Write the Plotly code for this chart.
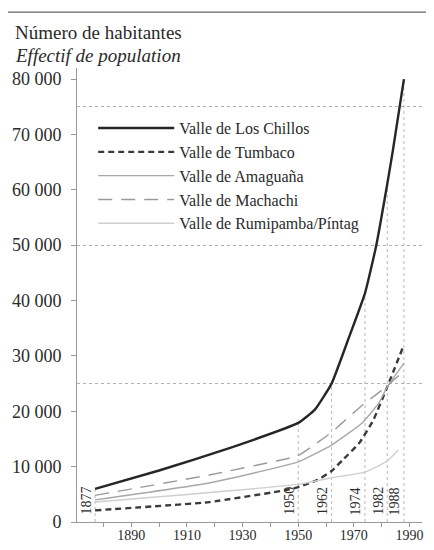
import plotly.graph_objects as go

# ---- data ----
chillos_years = [1877, 1900, 1925, 1950, 1956, 1962, 1968, 1974, 1978, 1982, 1984, 1988]
chillos_vals = [6000, 9300, 13300, 17900, 20300, 25000, 33000, 41300, 49800, 61000, 67000, 80000]

tumbaco_years = [1877, 1918, 1946, 1950, 1957, 1962, 1966, 1972, 1977, 1982, 1988]
tumbaco_vals = [2100, 3600, 5800, 6300, 7600, 9200, 11200, 14300, 18400, 24400, 32000]

amaguana_years = [1877, 1918, 1950, 1962, 1973, 1979, 1982, 1988]
amaguana_vals = [4000, 7050, 10850, 13900, 17900, 21500, 24400, 28700]

machachi_years = [1877, 1918, 1950, 1956, 1962, 1968, 1974, 1978, 1982, 1988]
machachi_vals = [4800, 8500, 12000, 14000, 16200, 18900, 21500, 23000, 24600, 27300]

rumipamba_years = [1877, 1950, 1962, 1974, 1982, 1986]
rumipamba_vals = [3600, 6800, 8000, 9000, 11000, 13000]

series_names = ["Valle de Los Chillos", "Valle de Tumbaco", "Valle de Amaguaña",
                "Valle de Machachi", "Valle de Rumipamba/Píntag"]

census_years = [1877, 1950, 1962, 1974, 1982, 1988]
grid_vals = [25000, 50000, 75000]

ytick_vals = [0, 10000, 20000, 30000, 40000, 50000, 60000, 70000, 80000]
ytick_text = ["0", "10 000", "20 000", "30 000", "40 000", "50 000", "60 000", "70 000", "80 000"]
xtick_vals = [1880, 1890, 1900, 1910, 1920, 1930, 1940, 1950, 1960, 1970, 1980, 1990]
xtick_text = ["", "1890", "", "1910", "", "1930", "", "1950", "", "1970", "", "1990"]

title_lines = ["Número de habitantes", "Effectif de population"]

FONT = "Liberation Serif"
TXT = "#2a2a2a"

fig = go.Figure()

# vertical census guide lines, from 0 up to the Los Chillos curve
vx, vy = [], []
for yr in census_years:
    v = chillos_vals[chillos_years.index(yr)]
    vx += [yr, yr, None]
    vy += [0, v, None]
fig.add_trace(go.Scatter(x=vx, y=vy, mode="lines", showlegend=False, hoverinfo="skip",
                         line=dict(color="#b8b8b8", width=1, dash="dot")))

styles = [
    dict(color="#262626", width=2.4),
    dict(color="#3a3a3a", width=2.4, dash="6px,4px"),
    dict(color="#a8a8a8", width=1.4),
    dict(color="#9a9a9a", width=1.4, dash="14px,9px"),
    dict(color="#cfcfcf", width=1.4),
]
data = [(chillos_years, chillos_vals), (tumbaco_years, tumbaco_vals),
        (amaguana_years, amaguana_vals), (machachi_years, machachi_vals),
        (rumipamba_years, rumipamba_vals)]
for name, (xs, ys), st in zip(series_names, data, styles):
    fig.add_trace(go.Scatter(x=xs, y=ys, mode="lines", name=name,
                             line=dict(shape="spline", smoothing=0.4, **st)))

# rotated census-year labels
for yr in census_years:
    fig.add_annotation(x=yr, y=0, xref="x", yref="y", text=str(yr), textangle=-90,
                       showarrow=False, xanchor="right", yanchor="bottom",
                       xshift=0, yshift=5, font=dict(family=FONT, size=14, color=TXT))

# axis title block (two lines)
fig.add_annotation(xref="paper", yref="paper", x=-0.186, y=1.106, xanchor="left", yanchor="top",
                   align="left", showarrow=False, text=title_lines[0],
                   font=dict(family=FONT, size=19, color=TXT))
fig.add_annotation(xref="paper", yref="paper", x=-0.186, y=1.055, xanchor="left", yanchor="top",
                   align="left", showarrow=False, text="<i>" + title_lines[1] + "</i>",
                   font=dict(family=FONT, size=19, color=TXT))

# frame line at top of figure
fig.add_shape(type="line", xref="paper", yref="paper", x0=-0.25, x1=1.05, y0=1.123, y1=1.123,
              line=dict(color="#666666", width=1.2))

# the page adds an 8 px body margin, so the figure is sized to the visible 426x542 area
fig.update_layout(
    width=426, height=542,
    margin=dict(l=69, r=12, t=60, b=28),
    paper_bgcolor="white", plot_bgcolor="white",
    font=dict(family=FONT, color=TXT),
    showlegend=True,
    legend=dict(x=0.047, y=0.905, xanchor="left", yanchor="top",
                bgcolor="rgba(0,0,0,0)", font=dict(family=FONT, size=16, color=TXT),
                itemwidth=76, tracegroupgap=0),
    xaxis=dict(range=[1870.5, 1994.5], tickvals=xtick_vals, ticktext=xtick_text,
               showgrid=False, zeroline=False, showline=True, linecolor="#9a9a9a", linewidth=1,
               ticks="outside", ticklen=4, tickcolor="#9a9a9a", automargin=False,
               ticklabelstandoff=-4,
               tickfont=dict(family=FONT, size=14, color=TXT)),
    yaxis=dict(range=[0, 82000], tickvals=ytick_vals, ticktext=ytick_text,
               showgrid=False, zeroline=False, showline=True, linecolor="#9a9a9a", linewidth=1,
               ticks="outside", ticklen=5, tickcolor="#9a9a9a", ticklabelstandoff=6,
               automargin=False,
               tickfont=dict(family=FONT, size=18, color=TXT),
               minor=dict(tickvals=grid_vals, showgrid=True, gridcolor="#b0b0b0",
                          griddash="dot", gridwidth=1, ticks="")),
)

fig.write_html("out.html")
